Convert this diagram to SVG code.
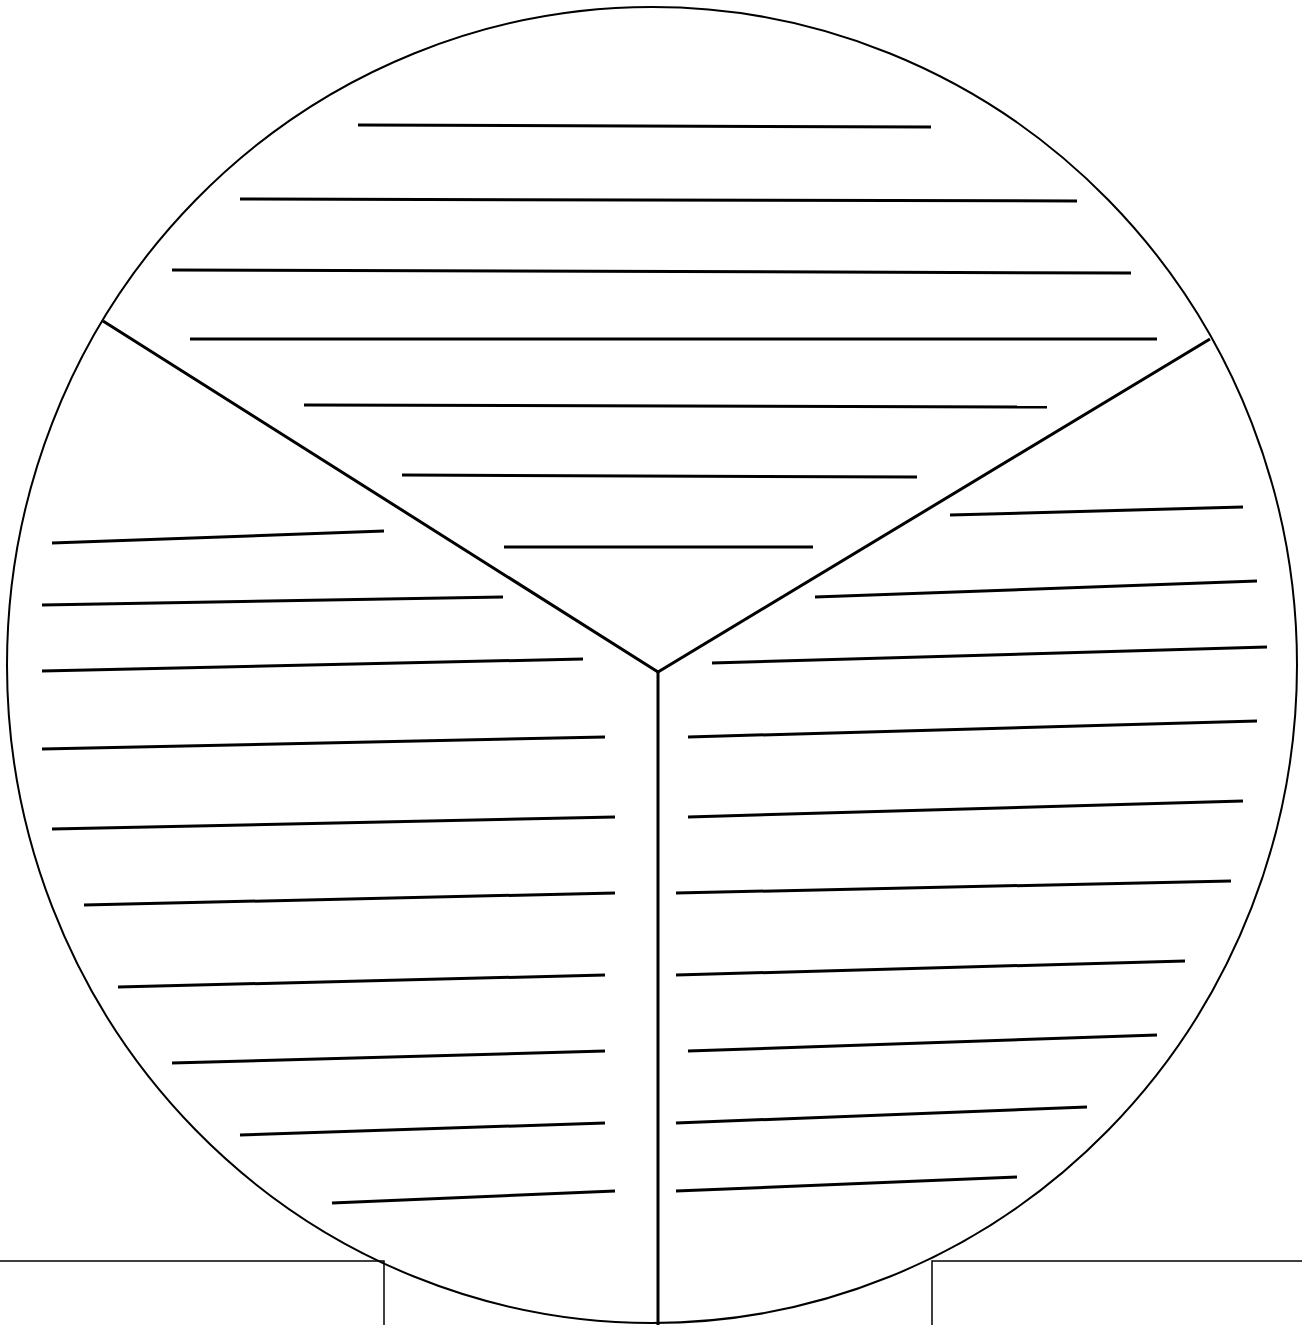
<svg xmlns="http://www.w3.org/2000/svg" width="1302" height="1325" viewBox="0 0 1302 1325">
<style>
.o{fill:none;stroke:#000;stroke-width:2}
.d{fill:none;stroke:#000;stroke-width:3}
.h{stroke:#000;stroke-width:3}
.b{fill:none;stroke:#000;stroke-width:1.5}
</style>
<rect width="1302" height="1325" fill="#fff"/>
<ellipse class="o" cx="652" cy="665" rx="645" ry="658"/>
<g id="dividers">
<polyline class="d" points="103,321 658,672 1210,339"/>
<line class="d" x1="658" y1="672" x2="658" y2="1325"/>
</g>
<g id="top-hatch">
<line class="h" x1="358" y1="125" x2="931" y2="127"/>
<line class="h" x1="240" y1="199" x2="1077" y2="201"/>
<line class="h" x1="172" y1="270" x2="1131" y2="273"/>
<line class="h" x1="190" y1="339" x2="1157" y2="339"/>
<line class="h" x1="304" y1="405" x2="1047" y2="407"/>
<line class="h" x1="402" y1="475" x2="917" y2="477"/>
<line class="h" x1="504" y1="547" x2="813" y2="547"/>
</g>
<g id="left-hatch">
<line class="h" x1="52" y1="543" x2="384" y2="531"/>
<line class="h" x1="42" y1="605" x2="503" y2="597"/>
<line class="h" x1="42" y1="671" x2="583" y2="659"/>
<line class="h" x1="42" y1="749" x2="605" y2="737"/>
<line class="h" x1="52" y1="829" x2="615" y2="817"/>
<line class="h" x1="84" y1="905" x2="615" y2="893"/>
<line class="h" x1="118" y1="987" x2="605" y2="975"/>
<line class="h" x1="172" y1="1063" x2="605" y2="1051"/>
<line class="h" x1="240" y1="1135" x2="605" y2="1123"/>
<line class="h" x1="332" y1="1203" x2="615" y2="1191"/>
</g>
<g id="right-hatch">
<line class="h" x1="950" y1="515" x2="1243" y2="507"/>
<line class="h" x1="815" y1="597" x2="1257" y2="581"/>
<line class="h" x1="712" y1="663" x2="1267" y2="647"/>
<line class="h" x1="688" y1="737" x2="1257" y2="721"/>
<line class="h" x1="688" y1="817" x2="1243" y2="801"/>
<line class="h" x1="676" y1="893" x2="1231" y2="881"/>
<line class="h" x1="676" y1="975" x2="1185" y2="961"/>
<line class="h" x1="688" y1="1051" x2="1157" y2="1035"/>
<line class="h" x1="676" y1="1123" x2="1087" y2="1107"/>
<line class="h" x1="676" y1="1191" x2="1017" y2="1177"/>
</g>
<g id="supports">
<polyline class="b" points="0,1261 384,1261 384,1325"/>
<polyline class="b" points="932,1325 932,1261 1302,1261"/>
</g>
</svg>
